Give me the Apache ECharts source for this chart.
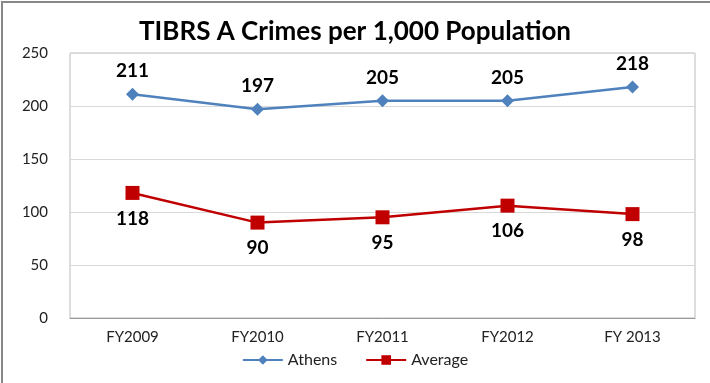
<!DOCTYPE html>
<html><head><meta charset="utf-8">
<script src="https://cdn.jsdelivr.net/npm/echarts@6/dist/echarts.min.js"></script>
<style>html,body{margin:0;padding:0;background:#fff}#c{width:710px;height:383px}</style>
</head><body><div id="c"></div>
<script>
const categories = ['FY2009','FY2010','FY2011','FY2012','FY 2013'];
const athens = [211,197,205,205,218];
const average = [118,90,95,106,98];
const yTicks = [0,50,100,150,200,250];

const chart = echarts.init(document.getElementById('c'));
const font = 'Lato, "Open Sans", sans-serif';
chart.setOption({
  animation:false,
  graphic:[{type:'rect',shape:{x:2,y:2,width:720,height:400},style:{fill:'none',stroke:'#888',lineWidth:2},silent:true}],
  title:{text:'TIBRS A Crimes per 1,000 Population',left:'center',top:14,
    textStyle:{fontFamily:font,fontWeight:'bold',fontSize:26,color:'#000'}},
  grid:{left:70,right:15,top:53,bottom:65,show:true,borderColor:'#bbb',borderWidth:1},
  legend:{bottom:10,left:'center',itemWidth:40,itemHeight:12,itemGap:28,
    textStyle:{fontFamily:font,fontSize:16,color:'#222'},
    data:['Athens','Average']},
  xAxis:{type:'category',data:categories,boundaryGap:true,
    axisLine:{lineStyle:{color:'#999'}},axisTick:{show:false},
    axisLabel:{fontFamily:font,fontSize:15,color:'#222',margin:12}},
  yAxis:{type:'value',min:yTicks[0],max:yTicks[yTicks.length-1],interval:50,
    axisLine:{show:false},axisTick:{show:false},
    splitLine:{lineStyle:{color:'#d9d9d9'}},
    axisLabel:{fontFamily:font,fontSize:15,color:'#222',margin:22}},
  series:[
    {name:'Athens',type:'line',data:athens,symbol:'diamond',symbolSize:13,
     lineStyle:{color:'#4F81BD',width:2.5},itemStyle:{color:'#4F81BD'},
     label:{show:true,position:'top',distance:7,fontFamily:font,fontWeight:'bold',fontSize:19,color:'#000'}},
    {name:'Average',type:'line',data:average,symbol:'rect',symbolSize:14,
     lineStyle:{color:'#C00000',width:2.5},itemStyle:{color:'#C00000'},
     label:{show:true,position:'bottom',distance:9,fontFamily:font,fontWeight:'bold',fontSize:19,color:'#000'}}
  ]
});
</script></body></html>
